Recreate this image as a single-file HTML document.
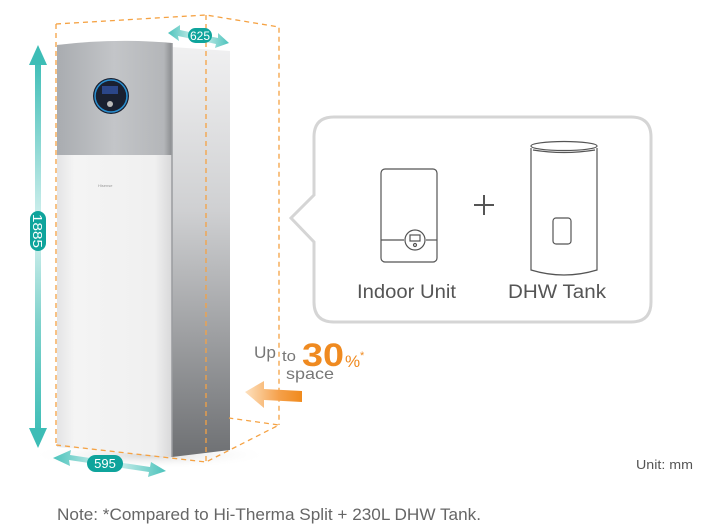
<!DOCTYPE html>
<html><head><meta charset="utf-8"><style>
html,body{margin:0;padding:0;background:#fff;}
svg{display:block;font-family:"Liberation Sans",sans-serif;}
</style></head><body>
<svg width="704" height="529" viewBox="0 0 704 529" xmlns="http://www.w3.org/2000/svg">
<defs>
<linearGradient id="vArrow" x1="0" y1="0" x2="0" y2="1">
<stop offset="0" stop-color="#3dbdb6"/><stop offset="0.45" stop-color="#d8f2f0"/><stop offset="0.7" stop-color="#7fd2cc"/><stop offset="1" stop-color="#3dbdb6"/></linearGradient>
<linearGradient id="hArrow" x1="0" y1="0" x2="1" y2="0">
<stop offset="0" stop-color="#4cc3bc"/><stop offset="0.5" stop-color="#e0f5f3"/><stop offset="1" stop-color="#4cc3bc"/></linearGradient>
<linearGradient id="top" x1="0" y1="0" x2="1" y2="0">
<stop offset="0" stop-color="#a9acb0"/><stop offset="0.5" stop-color="#c3c5c8"/><stop offset="0.93" stop-color="#b4b6b9"/><stop offset="1" stop-color="#8a8c8f"/></linearGradient>
<linearGradient id="front" x1="0" y1="0" x2="1" y2="0">
<stop offset="0" stop-color="#e4e4e5"/><stop offset="0.15" stop-color="#f4f4f4"/><stop offset="0.85" stop-color="#f0f0f0"/><stop offset="1" stop-color="#d8d8d9"/></linearGradient>
<linearGradient id="side" x1="0" y1="0" x2="0" y2="1">
<stop offset="0" stop-color="#f0f0f1"/><stop offset="0.4" stop-color="#cfd0d2"/><stop offset="1" stop-color="#6e7073"/></linearGradient>
<linearGradient id="orange" x1="0" y1="0" x2="1" y2="0">
<stop offset="0" stop-color="#fde1bf"/><stop offset="0.6" stop-color="#f5a04a"/><stop offset="1" stop-color="#f08a1c"/></linearGradient>
<radialGradient id="shadow" cx="0.5" cy="0.5" r="0.5">
<stop offset="0" stop-color="#d6d6d6"/><stop offset="1" stop-color="#fff" stop-opacity="0"/></radialGradient>
</defs>

<ellipse cx="150" cy="455" rx="120" ry="14" fill="url(#shadow)"/>

<g stroke="#f5a243" stroke-width="1.3" stroke-dasharray="5,4" fill="none">
<polyline points="56,24 206,15 279,27 279,425"/>
<line x1="56" y1="24" x2="56" y2="445"/>
</g>

<polygon points="172,47 230,51 230,450 172,457" fill="url(#side)"/>
<path d="M57,45 Q115,38 172,43 L172,457 Q115,452 57,447 Z" fill="url(#front)"/>
<path d="M57,45 Q115,38 172,43 L172,155 L57,155 Z" fill="url(#top)"/>
<line x1="172" y1="43" x2="172" y2="457" stroke="#9a9c9f" stroke-width="1.5"/>
<circle cx="111" cy="96" r="18" fill="#1a2030"/>
<circle cx="111" cy="96" r="16" fill="none" stroke="#2a8fd0" stroke-width="1.5"/>
<rect x="102" y="86" width="16" height="8" fill="#3050a0" opacity="0.8"/>
<circle cx="110" cy="104" r="3" fill="#bbb"/>
<text x="98" y="187" font-size="4" fill="#999">Hisense</text>

<g stroke="#f5a243" stroke-width="1.3" stroke-dasharray="5,4" fill="none">
<line x1="206" y1="15" x2="206" y2="462"/>
<polyline points="56,445 206,462 279,425 229,418"/>
</g>

<rect x="35" y="58" width="6" height="378" fill="url(#vArrow)"/>
<polygon points="38,45 29,65 47,65" fill="#3dbdb6"/>
<polygon points="38,448 29,428 47,428" fill="#3dbdb6"/>
<rect x="30" y="211" width="16" height="40" rx="8" fill="#0fa49c"/>
<text transform="translate(33,231) rotate(90)" text-anchor="middle" font-size="13" fill="#fff" textLength="34" lengthAdjust="spacingAndGlyphs">1885</text>

<polygon points="168,33 180,25 180,30 218,38 218,33 229,43 215,48 216,44 178,36 179,41" fill="url(#hArrow)"/>
<rect x="188" y="28" width="24" height="15" rx="7.5" fill="#0fa49c"/>
<text x="200" y="40" text-anchor="middle" font-size="12" fill="#fff">625</text>

<polygon points="53,458 71,450 70,455 150,467 151,462 166,471 148,477 149,472 69,460 70,466" fill="url(#hArrow)"/>
<rect x="87" y="455" width="36" height="17" rx="8.5" fill="#0fa49c"/>
<text x="105" y="468" text-anchor="middle" font-size="13" fill="#fff">595</text>

<path d="M334,117 L631,117 Q651,117 651,137 L651,302 Q651,322 631,322 L334,322 Q314,322 314,302 L314,242 L291,218 L314,195 L314,137 Q314,117 334,117 Z" fill="#fff" stroke="#d5d5d5" stroke-width="3"/>

<g fill="none" stroke="#555" stroke-width="1.2">
<rect x="381" y="169" width="56" height="93" rx="4"/>
<line x1="381" y1="240" x2="404" y2="240"/>
<line x1="426" y1="240" x2="437" y2="240"/>
<circle cx="415" cy="240" r="10"/>
<rect x="410" y="235" width="10" height="6"/>
<circle cx="415" cy="245" r="1.5"/>
<line x1="474" y1="205" x2="494" y2="205" stroke-width="2"/>
<line x1="484" y1="195" x2="484" y2="215" stroke-width="2"/>
<path d="M531,148 L531,270 Q564,280 597,270 L597,148"/>
<ellipse cx="564" cy="146" rx="33" ry="4.5"/>
<path d="M533,150 Q564,155 595,150"/>
<rect x="553" y="218" width="18" height="26" rx="3"/>
</g>
<text x="357" y="298" font-size="19" fill="#555" textLength="99" lengthAdjust="spacingAndGlyphs">Indoor Unit</text>
<text x="508" y="298" font-size="19" fill="#555" textLength="98" lengthAdjust="spacingAndGlyphs">DHW Tank</text>

<text x="254" y="358" font-size="17" fill="#777" textLength="22" lengthAdjust="spacingAndGlyphs">Up</text>
<text x="282" y="361" font-size="15" fill="#777" textLength="14" lengthAdjust="spacingAndGlyphs">to</text>
<text x="302" y="366" font-size="32" font-weight="bold" fill="#ef8a20" textLength="42" lengthAdjust="spacingAndGlyphs">30</text>
<text x="345" y="367" font-size="17" fill="#ef8a20">%</text>
<text x="360" y="359" font-size="11" fill="#ef8a20">*</text>
<text x="286" y="379" font-size="16" fill="#777" textLength="48" lengthAdjust="spacingAndGlyphs">space</text>

<polygon points="245,392 264,381 264,389 302,391 302,402 264,400 264,408" fill="url(#orange)"/>

<text x="636" y="469" font-size="13" fill="#555" textLength="57" lengthAdjust="spacingAndGlyphs">Unit: mm</text>
<text x="57" y="520" font-size="17" fill="#666" textLength="424" lengthAdjust="spacingAndGlyphs">Note: *Compared to Hi-Therma Split + 230L DHW Tank.</text>
</svg>
</body></html>
